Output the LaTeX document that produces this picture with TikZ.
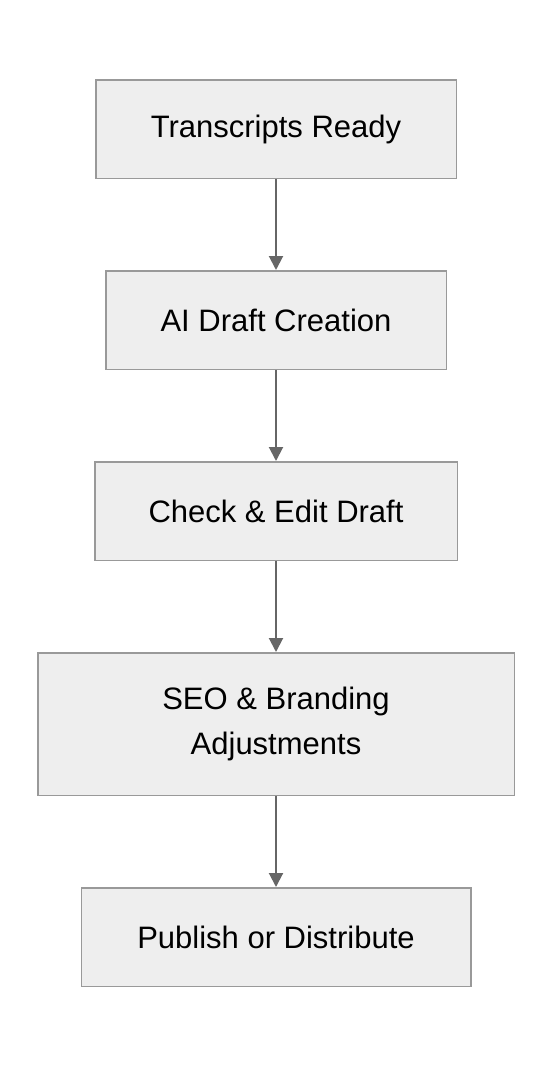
\documentclass[tikz,border=0pt]{standalone}
\usepackage{fontspec}
\setmainfont{Liberation Sans}
\usetikzlibrary{positioning,arrows.meta}
\newcommand{\boxFill}[0]{boxgray}
\definecolor{boxgray}{HTML}{EEEEEE}
\definecolor{boxline}{HTML}{999999}
\definecolor{arrowgray}{HTML}{666666}

\begin{document}
\begin{tikzpicture}[x=1pt, y=1pt, node distance=91pt]
  \tikzset{stage/.style={draw=boxline, line width=1.5pt, fill=\boxFill,
                         minimum height=98.5pt, align=center,
                         font=\fontsize{31}{45}\selectfont},
           flow/.style={draw=arrowgray, line width=2pt,
                        -{Triangle[length=14pt,width=14pt]}}}
  \useasboundingbox (0,0) rectangle (552,-1068);
  \node[stage, minimum width=360.5pt] (ready) at (276,-129) {Transcripts Ready};
  \node[stage, minimum width=340.5pt, below=of ready] (draft) {AI Draft Creation};
  \node[stage, minimum width=362.5pt, below=of draft] (check) {Check \& Edit Draft};
  \node[stage, minimum width=476.5pt, minimum height=142.5pt, below=of check] (seo) {SEO \& Branding\\Adjustments};
  \node[stage, minimum width=389.5pt, below=of seo] (publish) {Publish or Distribute};
  \draw[flow] (ready) -- (draft);
  \draw[flow] (draft) -- (check);
  \draw[flow] (check) -- (seo);
  \draw[flow] (seo) -- (publish);
\end{tikzpicture}
\end{document}
